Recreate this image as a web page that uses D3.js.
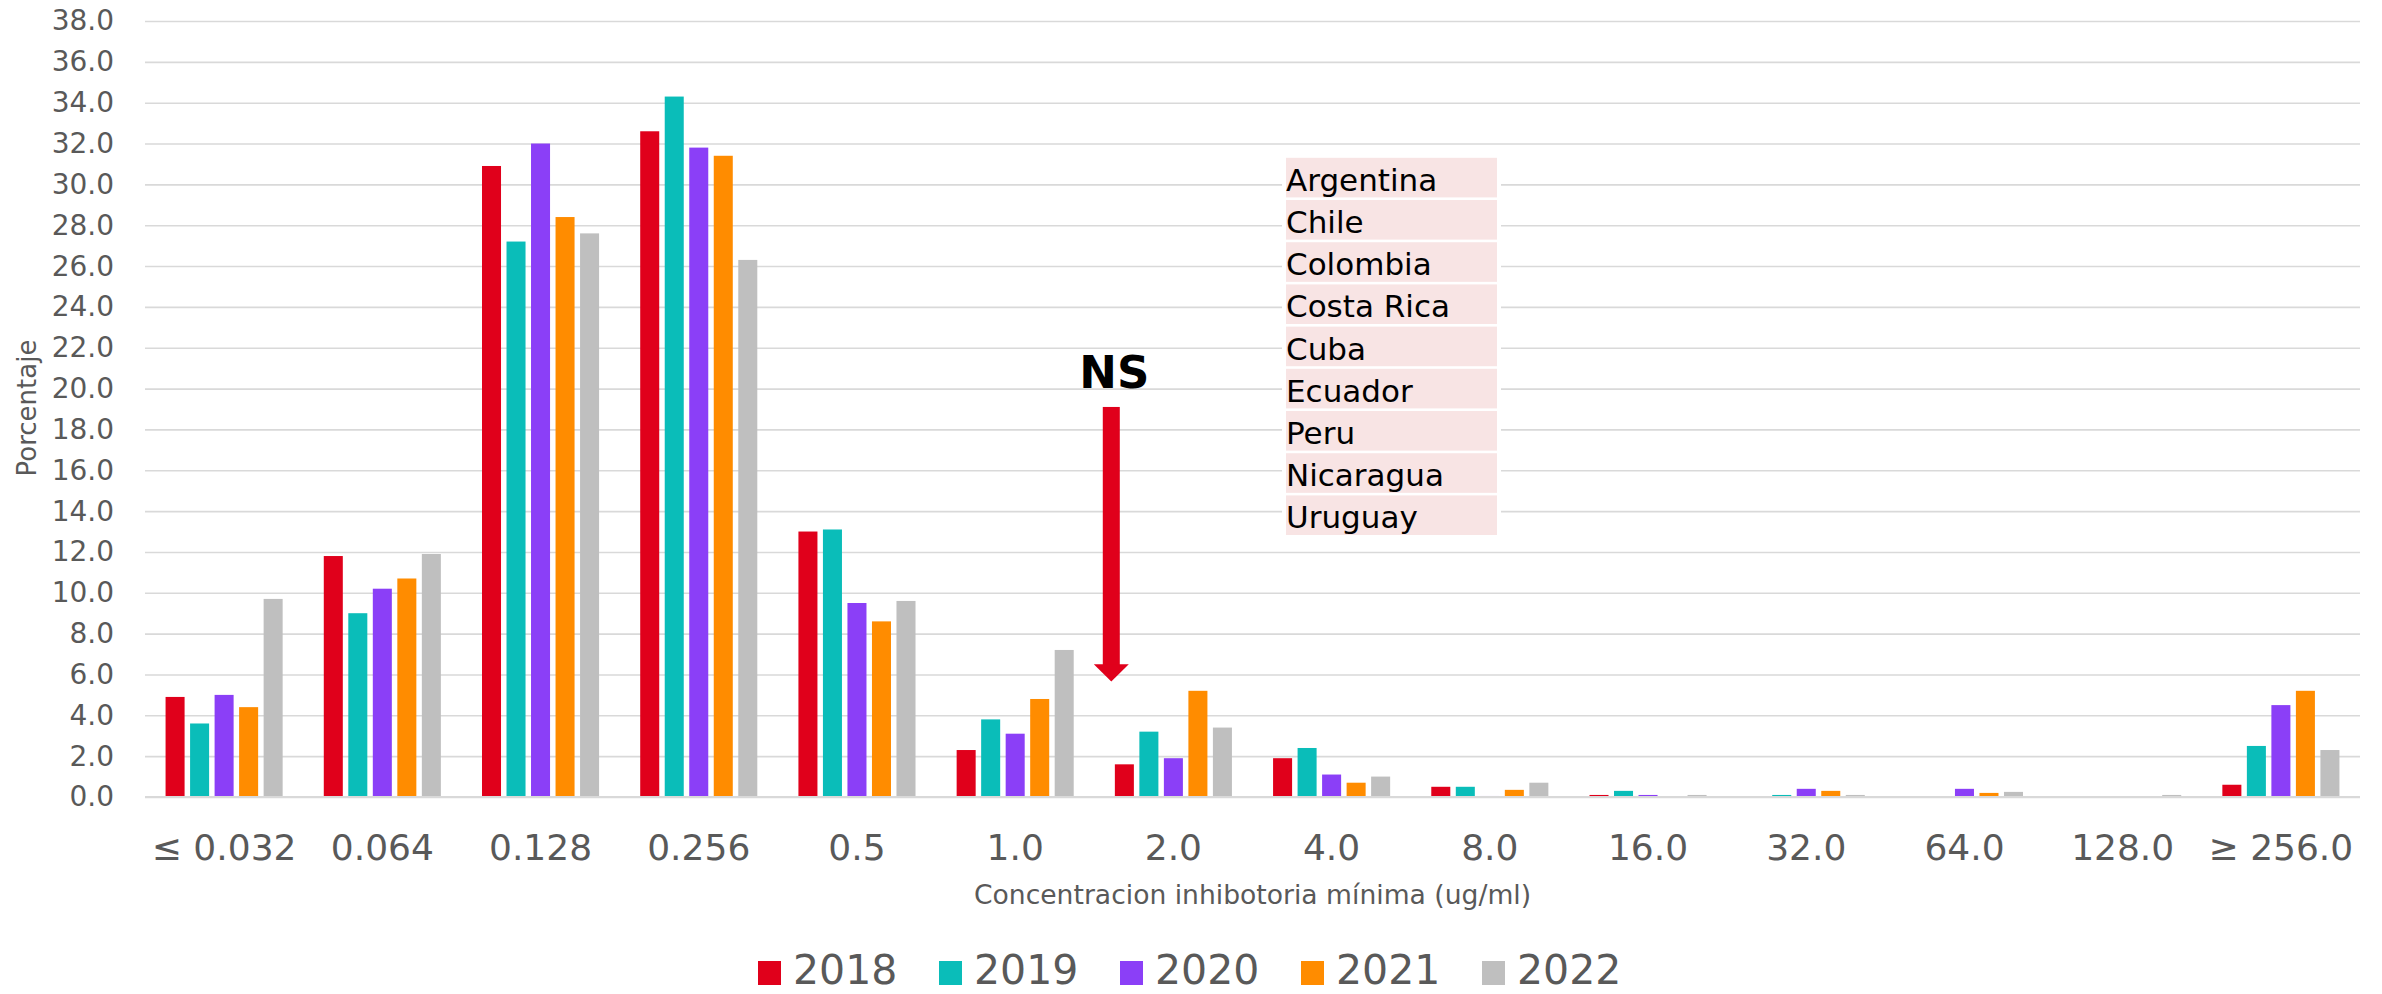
<!DOCTYPE html>
<html>
<head>
<meta charset="utf-8">
<script src="https://cdn.jsdelivr.net/npm/d3@7"></script>
<style>
  body { margin: 0; background: #fff; }
  svg { display: block; font-family: "DejaVu Sans", Verdana, sans-serif; }
</style>
</head>
<body>
<div id="chart"></div>
<script>
// categories (MIC, ug/ml) and yearly series (%)
var categories = ["≤ 0.032", "0.064", "0.128", "0.256", "0.5", "1.0", "2.0", "4.0", "8.0", "16.0", "32.0", "64.0", "128.0", "≥ 256.0"];
var years = ["2018", "2019", "2020", "2021", "2022"];
var colors = ["#E0001B", "#0ABDB9", "#8B3FF7", "#FF8C00", "#BFBFBF"];

var v2018 = [4.9, 11.8, 30.9, 32.6, 13.0, 2.3, 1.6, 1.9, 0.5, 0.1, 0, 0, 0, 0.6];
var v2019 = [3.6, 9.0, 27.2, 34.3, 13.1, 3.8, 3.2, 2.4, 0.5, 0.3, 0.1, 0, 0, 2.5];
var v2020 = [5.0, 10.2, 32.0, 31.8, 9.5, 3.1, 1.9, 1.1, 0.05, 0.1, 0.4, 0.4, 0, 4.5];
var v2021 = [4.4, 10.7, 28.4, 31.4, 8.6, 4.8, 5.2, 0.7, 0.35, 0, 0.3, 0.2, 0, 5.2];
var v2022 = [9.7, 11.9, 27.6, 26.3, 9.6, 7.2, 3.4, 1.0, 0.7, 0.1, 0.1, 0.25, 0.1, 2.3];

var yTicks = d3.range(0, 38.1, 2);
var countries = ["Argentina", "Chile", "Colombia", "Costa Rica", "Cuba", "Ecuador", "Peru", "Nicaragua", "Uruguay"];

var series = [v2018, v2019, v2020, v2021, v2022];

var W = 2382, H = 994;
var margin = {top: 21, right: 22, bottom: 197, left: 145};

var svg = d3.select("#chart").append("svg")
	.attr("width", W)
	.attr("height", H);

var x0 = d3.scaleBand().domain(categories).range([margin.left, W - margin.right]);
var groupW = x0.bandwidth() * 0.74;
var x1 = d3.scaleBand().domain(years).range([0, groupW]).paddingInner(0.224);
var y = d3.scaleLinear().domain([0, 38]).range([H - margin.bottom, margin.top]);
var color = d3.scaleOrdinal().domain(years).range(colors);

// gridlines + y labels
var yAxis = d3.axisLeft(y)
	.tickValues(yTicks)
	.tickSize(-(W - margin.right - margin.left))
	.tickFormat(d3.format(".1f"));

var gy = svg.append("g")
	.attr("transform", "translate(" + margin.left + ",0)")
	.call(yAxis);
gy.select(".domain").remove();
gy.selectAll(".tick line").attr("stroke", "#D9D9D9").attr("stroke-width", 1.6);
gy.selectAll(".tick text")
	.attr("x", -31)
	.attr("fill", "#595959")
	.style("font-size", "28px")
	.style("font-family", "DejaVu Sans, Verdana, sans-serif");

// country box (white backing interrupts gridlines)
var boxX = 1286, boxW = 211, rowH = 42.2, boxTop = y(31.3);
svg.append("rect")
	.attr("x", boxX - 4).attr("y", boxTop - 3)
	.attr("width", boxW + 8).attr("height", rowH * countries.length + 5)
	.attr("fill", "#fff");
var rows = svg.append("g").selectAll("g")
	.data(countries).enter().append("g")
	.attr("transform", function(d, i) { return "translate(" + boxX + "," + (boxTop + i * rowH) + ")"; });
rows.append("rect")
	.attr("width", boxW)
	.attr("height", rowH - 2.6)
	.attr("fill", "#F8E4E4");
rows.append("text")
	.attr("x", 0)
	.attr("y", 33)
	.attr("fill", "#000")
	.style("font-size", "31px")
	.text(function(d) { return d; });

// bars
var groups = svg.append("g").selectAll("g")
	.data(categories).enter().append("g")
	.attr("transform", function(d) { return "translate(" + (x0(d) + (x0.bandwidth() - groupW) / 2) + ",0)"; });

groups.selectAll("rect")
	.data(function(d, ci) { return years.map(function(yr, si) { return {year: yr, value: series[si][ci]}; }); })
	.enter().append("rect")
	.attr("x", function(d) { return x1(d.year); })
	.attr("width", x1.bandwidth())
	.attr("y", function(d) { return y(d.value); })
	.attr("height", function(d) { return y(0) - y(d.value); })
	.attr("fill", function(d) { return color(d.year); });

// baseline
svg.append("line")
	.attr("x1", margin.left).attr("x2", W - margin.right)
	.attr("y1", y(0)).attr("y2", y(0))
	.attr("stroke", "#D9D9D9").attr("stroke-width", 2);

// x labels
svg.append("g").selectAll("text")
	.data(categories).enter().append("text")
	.attr("x", function(d) { return x0(d) + x0.bandwidth() / 2; })
	.attr("y", 860)
	.attr("text-anchor", "middle")
	.attr("fill", "#595959")
	.style("font-size", "36px")
	.text(function(d) { return d; });

// axis titles
svg.append("text")
	.attr("x", (margin.left + W - margin.right) / 2)
	.attr("y", 904)
	.attr("text-anchor", "middle")
	.attr("fill", "#595959")
	.style("font-size", "26.6px")
	.text("Concentracion inhibotoria mínima (ug/ml)");

svg.append("text")
	.attr("transform", "translate(36,408) rotate(-90)")
	.attr("text-anchor", "middle")
	.attr("fill", "#595959")
	.style("font-size", "26px")
	.text("Porcentaje");

// NS arrow
var ax = x0("2.0") + 17;
svg.append("rect")
	.attr("x", ax - 8.5).attr("y", y(19.1))
	.attr("width", 17).attr("height", y(6.4) - y(19.1))
	.attr("fill", "#E0001B");
svg.append("path")
	.attr("d", "M" + (ax - 17.5) + "," + y(6.5) + "L" + (ax + 17.5) + "," + y(6.5) + "L" + ax + "," + y(5.65) + "Z")
	.attr("fill", "#E0001B");
svg.append("text")
	.attr("x", ax + 3)
	.attr("y", 388)
	.attr("text-anchor", "middle")
	.attr("fill", "#000")
	.style("font-size", "45px")
	.style("font-weight", "bold")
	.text("NS");

// legend
var legend = svg.append("g").selectAll("g")
	.data(years).enter().append("g")
	.attr("transform", function(d, i) { return "translate(" + (758 + i * 181) + ",0)"; });
legend.append("rect")
	.attr("y", 961).attr("width", 23).attr("height", 24)
	.attr("fill", function(d) { return color(d); });
legend.append("text")
	.attr("x", 35).attr("y", 984)
	.attr("fill", "#595959")
	.style("font-size", "41px")
	.text(function(d) { return d; });
</script>
</body>
</html>
